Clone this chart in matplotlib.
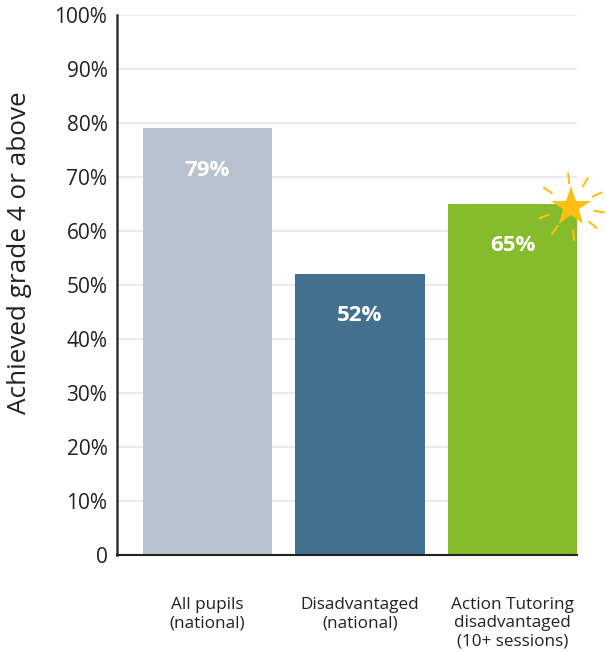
import numpy as np
import matplotlib
matplotlib.use('Agg')
import matplotlib.pyplot as plt
from matplotlib.ticker import FuncFormatter
from matplotlib.transforms import offset_copy

plt.rcParams['font.family'] = ['Open Sans', 'DejaVu Sans']

categories = ['All pupils\n(national)', 'Disadvantaged\n(national)',
              'Action Tutoring\ndisadvantaged\n(10+ sessions)']
values = [79, 52, 65]
bar_colors = ['#b8c3cf', '#41718f', '#86bb2b']
y_ticks = list(range(0, 101, 10))

fig = plt.figure(figsize=(6.07, 6.52), dpi=100)
ax = fig.add_axes([0.193, 0.149, 0.758, 0.828])

x = np.arange(len(values))
width = 0.845
bars = ax.bar(x, values, width=width, color=bar_colors, zorder=2)

ax.set_xlim(-0.59, x[-1] + width / 2)
ax.set_ylim(0, 100)
ax.set_yticks(y_ticks)
ax.yaxis.set_major_formatter(FuncFormatter(lambda v, p: '0' if v == 0 else f'{int(v)}%'))
ax.grid(True, axis='y', color='#e8e8e8', linewidth=1.2, zorder=0)
ax.set_axisbelow(True)

ax.set_xticks(x)
ax.set_xticklabels(categories, fontsize=12.3, color='#222222', linespacing=1.22, va='top')
ax.tick_params(axis='x', length=0, pad=30)
ax.tick_params(axis='y', length=0, pad=7, labelsize=15, labelcolor='#222222')

for side in ['top', 'right']:
    ax.spines[side].set_visible(False)
ax.spines['left'].set_color('#333333')
ax.spines['left'].set_linewidth(1.8)
ax.spines['bottom'].set_color('#222222')
ax.spines['bottom'].set_linewidth(1.5)

ax.set_ylabel('Achieved grade 4 or above', fontsize=18.8, color='#222222', va='center')
ax.yaxis.set_label_coords(-0.213, 0.56)

# value labels inside bars
for bar, val in zip(bars, values):
    ax.annotate(f'{val}%', (bar.get_x() + bar.get_width() / 2, val),
                xytext=(0, -30), textcoords='offset points',
                ha='center', va='center', color='white',
                fontsize=16, fontweight='bold', zorder=3)

# sparkle star on the last bar's corner
sx = x[-1] + width / 2 - 0.04
sy = values[-1] - 0.5
ax.plot([sx], [sy], marker='*', markersize=30, color='#fdbf14',
        markeredgewidth=0, zorder=5, clip_on=False)
for ang in [25, 60, 95, 145, 200, 235, 275, 320, 350]:
    a = np.deg2rad(ang)
    r0, r1 = 17, 24
    tr0 = offset_copy(ax.transData, fig=fig, x=r0 * np.cos(a), y=r0 * np.sin(a), units='points')
    ax.annotate('', xy=(sx, sy), xycoords=offset_copy(ax.transData, fig=fig,
                x=r1 * np.cos(a), y=r1 * np.sin(a), units='points'),
                xytext=(sx, sy), textcoords=tr0,
                arrowprops=dict(arrowstyle='-', color='#fdbf14', lw=1.5,
                                shrinkA=0, shrinkB=0),
                annotation_clip=False)

fig.savefig('out.png', dpi=100)
